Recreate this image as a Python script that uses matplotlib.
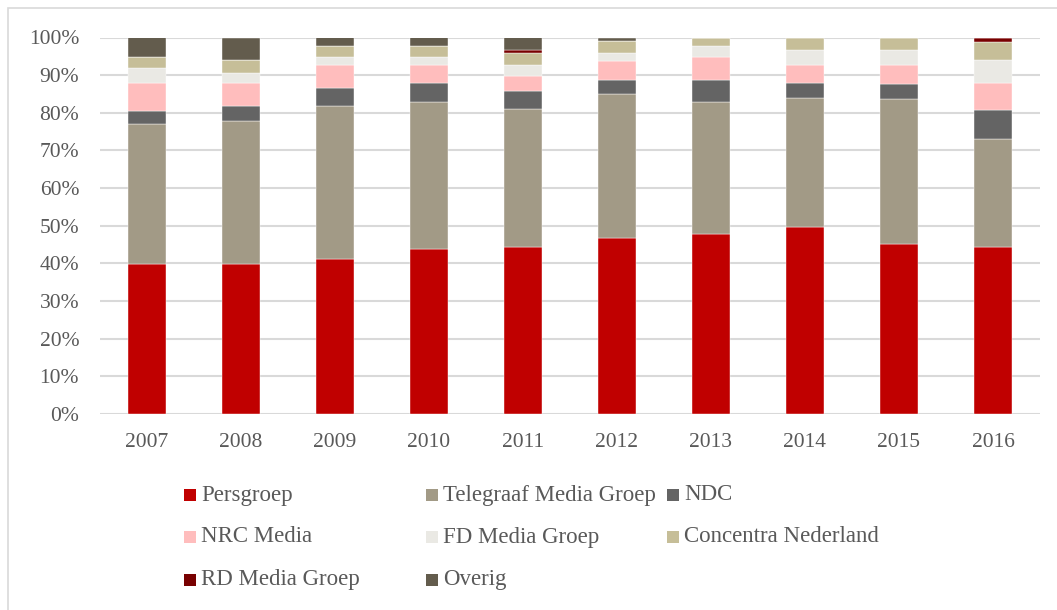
import matplotlib.pyplot as plt
from matplotlib.patches import Rectangle
import numpy as np

years = ["2007", "2008", "2009", "2010", "2011", "2012", "2013", "2014", "2015", "2016"]

persgroep = [39.8, 39.8, 41.3, 43.8, 44.4, 46.8, 47.8, 49.7, 45.2, 44.4]
telegraaf = [37.1, 37.9, 40.4, 39.0, 36.7, 38.1, 35.0, 34.1, 38.4, 28.6]
ndc = [3.7, 4.0, 5.0, 5.0, 4.8, 3.9, 6.0, 4.0, 4.0, 7.8]
nrc = [7.2, 6.1, 5.9, 4.9, 4.0, 4.9, 5.9, 5.0, 5.0, 7.1]
fd = [4.0, 2.9, 2.1, 2.0, 2.9, 2.1, 3.1, 4.0, 4.2, 6.0]
concentra = [3.0, 3.2, 3.1, 3.1, 3.0, 3.2, 2.2, 3.2, 3.2, 4.9]
rd = [0.0, 0.0, 0.0, 0.0, 0.9, 0.0, 0.0, 0.0, 0.0, 1.2]
overig = [5.2, 6.1, 2.2, 2.2, 3.3, 1.0, 0.0, 0.0, 0.0, 0.0]

series_names = ["Persgroep", "Telegraaf Media Groep", "NDC", "NRC Media",
                "FD Media Groep", "Concentra Nederland", "RD Media Groep", "Overig"]
series_values = [persgroep, telegraaf, ndc, nrc, fd, concentra, rd, overig]
colors = ["#C00000", "#A29A86", "#646464", "#FFBDBD",
          "#EAE9E4", "#C6BE98", "#780000", "#635C4D"]

TEXT = "#595959"
GRID = "#D9D9D9"
W, H = 1057, 610

plt.rcParams["font.family"] = ["Liberation Serif", "DejaVu Serif"]

fig = plt.figure(figsize=(W / 100, H / 100), dpi=100)
ax = fig.add_axes([100 / W, 1 - 414 / H, 940 / W, 376.5 / H])

x = np.arange(len(years))
bottom = np.zeros(len(years))
for name, vals, col in zip(series_names, series_values, colors):
    vals = np.array(vals) / 100
    ax.bar(x, vals, width=0.4, bottom=bottom, color=col, label=name,
           edgecolor="white", linewidth=0.3, zorder=3)
    bottom += vals

ax.set_xlim(-0.5, len(years) - 0.5)
ax.set_ylim(0, 1)
ax.set_yticks(np.arange(0, 1.01, 0.1))
ax.set_yticklabels([f"{int(round(v * 100))}%" for v in np.arange(0, 1.01, 0.1)])
ax.set_xticks(x)
ax.set_xticklabels(years)
ax.tick_params(axis="both", length=0, labelsize=15.5, colors=TEXT)
ax.tick_params(axis="y", pad=15)
ax.tick_params(axis="x", pad=14)
ax.grid(axis="y", color=GRID, linewidth=1.5, zorder=0)
for s in ax.spines.values():
    s.set_visible(False)

# legend laid out like the Excel one: fixed column grid
col_x = [184, 426, 667]
row_y = [495, 537, 580]
for i, (name, col) in enumerate(zip(series_names, colors)):
    cx = col_x[i % 3]
    cy = row_y[i // 3]
    fig.add_artist(Rectangle((cx / W, 1 - (cy + 6) / H), 12 / W, 12 / H,
                             transform=fig.transFigure, facecolor=col,
                             edgecolor="none"))
    fig.text((cx + 17) / W, 1 - cy / H, name, fontsize=16.5, color=TEXT,
             ha="left", va="center")

# outer chart border
fig.add_artist(Rectangle((8 / W, -0.05), 1.1, 1 - 8 / H + 0.05,
                         transform=fig.transFigure, facecolor="none",
                         edgecolor=GRID, linewidth=1.2))

fig.savefig("out.png", dpi=100, facecolor="white")
